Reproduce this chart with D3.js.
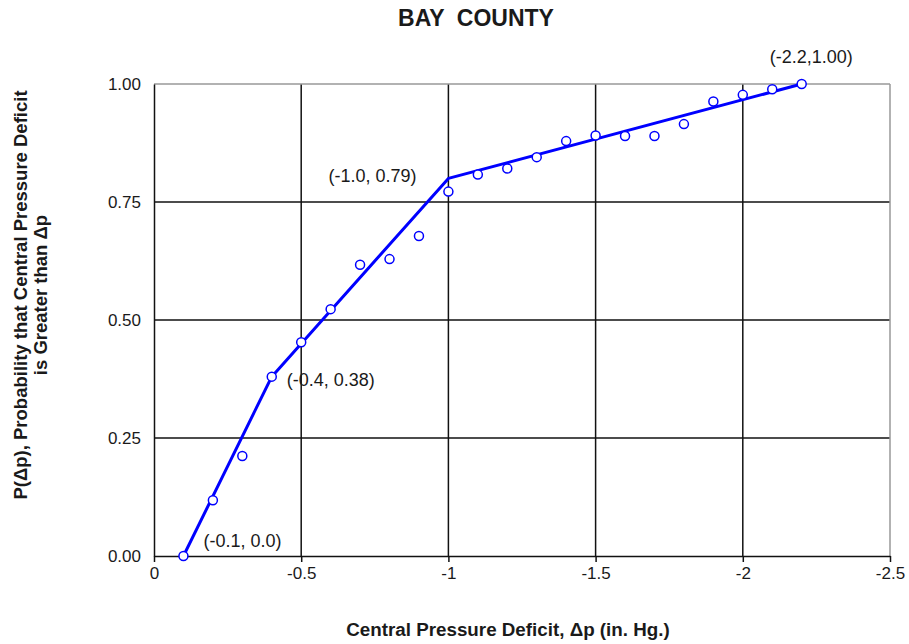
<!DOCTYPE html>
<html><head><meta charset="utf-8">
<script src="https://cdn.jsdelivr.net/npm/d3@7"></script>
<style>
html,body{margin:0;padding:0;background:#fff;}
svg text{font-family:"Liberation Sans",Arial,sans-serif;fill:#1a1a1a;}
</style></head>
<body><svg id="c" width="909" height="644"></svg>
<script>
// observed data
const obsX = [-0.1,-0.2,-0.3,-0.4,-0.5,-0.6,-0.7,-0.8,-0.9,-1.0,-1.1,-1.2,-1.3,-1.4,-1.5,-1.6,-1.7,-1.8,-1.9,-2.0,-2.1,-2.2];
const obsY = [0.0,0.118,0.212,0.38,0.453,0.523,0.617,0.629,0.678,0.772,0.808,0.821,0.845,0.879,0.891,0.890,0.890,0.915,0.963,0.977,0.989,1.0];
// fitted piecewise line
const fitX = [-0.1,-0.4,-1.0,-2.2];
const fitY = [0.0,0.38,0.80,1.0];
// annotations
const labelText = ["(-0.1, 0.0)","(-0.4, 0.38)","(-1.0, 0.79)","(-2.2,1.00)"];
const labelX = [-0.1,-0.4,-1.0,-2.2];
const labelY = [0.0,0.38,0.80,1.0];
const labelDx = [20,15,-120,-32];
const labelDy = [-9,9,4,-21];
// ticks
const xTicks = [0,-0.5,-1,-1.5,-2,-2.5];
const xTickLabels = ["0","-0.5","-1","-1.5","-2","-2.5"];
const yTicks = [0,0.25,0.5,0.75,1.0];
const yTickLabels = ["0.00","0.25","0.50","0.75","1.00"];

const svg = d3.select("#c");
const L=154, R=890, T=84, B=556;
const x = d3.scaleLinear().domain([0,-2.5]).range([L,R]);
const y = d3.scaleLinear().domain([0,1]).range([B,T]);

svg.append("text").attr("x",476).attr("y",26).attr("text-anchor","middle")
  .attr("font-size",23).attr("font-weight","bold").style("white-space","pre").text("BAY  COUNTY");

// gridlines
const g = svg.append("g");
g.selectAll("line.v").data(xTicks.slice(1,-1)).enter().append("line")
  .attr("x1",d=>x(d)).attr("x2",d=>x(d)).attr("y1",T).attr("y2",B)
  .attr("stroke","#111").attr("stroke-width",1.5);
g.selectAll("line.h").data(yTicks.slice(1,-1)).enter().append("line")
  .attr("y1",d=>y(d)).attr("y2",d=>y(d)).attr("x1",L).attr("x2",R)
  .attr("stroke","#111").attr("stroke-width",1.5);
// frame: top and right gray
g.append("line").attr("x1",L).attr("x2",R).attr("y1",T).attr("y2",T).attr("stroke","#999").attr("stroke-width",1.5);
g.append("line").attr("x1",R).attr("x2",R).attr("y1",T).attr("y2",B).attr("stroke","#999").attr("stroke-width",1.5);

// x axis
const xAxis = d3.axisBottom(x).tickValues(xTicks).tickFormat((d,i)=>xTickLabels[i]).tickSizeInner(6).tickSizeOuter(0).tickPadding(5);
const xa = svg.append("g").attr("transform",`translate(0,${B})`).call(xAxis);
xa.select(".domain").attr("stroke","#111").attr("stroke-width",1.5);
xa.selectAll(".tick line").attr("stroke","#111").attr("stroke-width",1.5);
xa.selectAll(".tick text").attr("font-size",17).attr("font-family",'"Liberation Sans",Arial,sans-serif').attr("fill","#1a1a1a");
// y axis
const yAxis = d3.axisLeft(y).tickValues(yTicks).tickFormat((d,i)=>yTickLabels[i]).tickSize(0).tickPadding(13);
const ya = svg.append("g").attr("transform",`translate(${L},0)`).call(yAxis);
ya.select(".domain").attr("stroke","#111").attr("stroke-width",1.5);
ya.selectAll(".tick text").attr("font-size",17).attr("font-family",'"Liberation Sans",Arial,sans-serif').attr("fill","#1a1a1a");

// fit line
const fit = fitX.map((v,i)=>[v,fitY[i]]);
svg.append("path").datum(fit).attr("d",d3.line().x(d=>x(d[0])).y(d=>y(d[1])))
  .attr("fill","none").attr("stroke","#0000ff").attr("stroke-width",3).attr("stroke-linejoin","round");
// points
const obs = obsX.map((v,i)=>[v,obsY[i]]);
svg.selectAll("circle.o").data(obs).enter().append("circle")
  .attr("cx",d=>x(d[0])).attr("cy",d=>y(d[1])).attr("r",4.5)
  .attr("fill","#fff").attr("stroke","#0000ff").attr("stroke-width",1.5);

// annotations
svg.selectAll("text.lab").data(labelText).enter().append("text")
  .attr("x",(d,i)=>x(labelX[i])+labelDx[i]).attr("y",(d,i)=>y(labelY[i])+labelDy[i])
  .attr("font-size",18).text(d=>d);

// axis titles
svg.append("text").attr("x",508).attr("y",636).attr("text-anchor","middle")
  .attr("font-size",18.8).attr("font-weight","bold").text("Central Pressure Deficit, \u0394p (in. Hg.)");
const yt = svg.append("text").attr("transform","translate(0,295) rotate(-90)").attr("text-anchor","middle")
  .attr("font-size",18.5).attr("font-weight","bold");
yt.append("tspan").attr("x",0).attr("y",27).text("P(\u0394p), Probability that Central Pressure Deficit");
yt.append("tspan").attr("x",0).attr("y",47).text("is Greater than \u0394p");
</script></body></html>
